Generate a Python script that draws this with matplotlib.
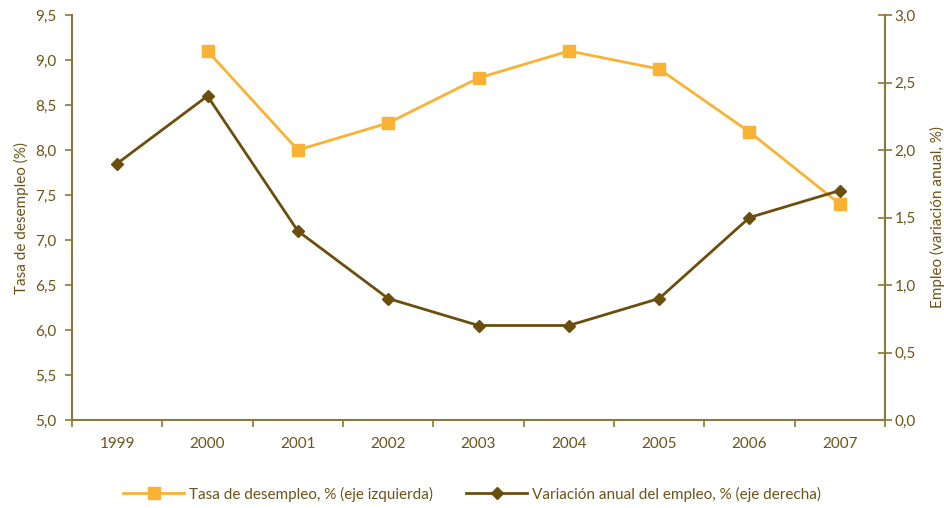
import matplotlib
matplotlib.use("Agg")
import matplotlib.pyplot as plt
from matplotlib.ticker import FixedLocator, FuncFormatter

years = ["1999", "2000", "2001", "2002", "2003", "2004", "2005", "2006", "2007"]
desempleo = [None, 9.1, 8.0, 8.3, 8.8, 9.1, 8.9, 8.2, 7.4]
empleo = [1.9, 2.4, 1.4, 0.9, 0.7, 0.7, 0.9, 1.5, 1.7]

plt.rcParams['font.family'] = ['Lato', 'DejaVu Sans']
TXT = '#6b5418'
AX = '#8c7638'
ORANGE = '#f9b234'
DARK = '#6b4e0c'

fig = plt.figure(figsize=(9.44, 5.08), dpi=100)
W, H = 944, 508
ax = fig.add_axes([72 / W, (H - 420) / H, 813 / W, 405 / H])
ax2 = ax.twinx()

x = list(range(len(years)))
xs = [i for i, v in zip(x, desempleo) if v is not None]
ys = [v for v in desempleo if v is not None]
l1, = ax.plot(xs, ys, color=ORANGE, lw=2, marker='s', ms=8, label='Tasa de desempleo, % (eje izquierda)')
l2, = ax2.plot(x, empleo, color=DARK, lw=2, marker='D', ms=6, label='Variación anual del empleo, % (eje derecha)')

ax.set_xlim(-0.5, len(years) - 0.5)
ax.set_ylim(5.0, 9.5)
ax2.set_ylim(0.0, 3.0)

ax.set_xticks([i - 0.5 for i in range(len(years) + 1)])
ax.set_xticklabels([])
ax.set_xticks(x, minor=True)
ax.set_xticklabels(years, minor=True)
ax.tick_params(axis='x', which='major', direction='out', length=5, color=AX, width=1.2)
ax.tick_params(axis='x', which='minor', length=0, pad=12, labelsize=11, labelcolor=TXT)

fmt = FuncFormatter(lambda v, p: f"{v:.1f}".replace('.', ','))
ax.yaxis.set_major_locator(FixedLocator([5.0 + 0.5 * i for i in range(10)]))
ax.yaxis.set_major_formatter(fmt)
ax2.yaxis.set_major_locator(FixedLocator([0.5 * i for i in range(7)]))
ax2.yaxis.set_major_formatter(fmt)
ax.tick_params(axis='y', direction='out', length=5, color=AX, width=1.2, labelsize=11, labelcolor=TXT, pad=6)
ax2.tick_params(axis='y', direction='inout', length=10, color=AX, width=1.2, labelsize=11, labelcolor=TXT, pad=2)

for a in (ax, ax2):
    a.spines['top'].set_visible(False)
    for s in ('left', 'right', 'bottom'):
        a.spines[s].set_color(AX)
        a.spines[s].set_linewidth(1.5)
ax.spines['right'].set_visible(False)
ax2.spines['left'].set_visible(False)
ax2.spines['bottom'].set_visible(False)

ax.set_ylabel('Tasa de desempleo (%)', color=TXT, fontsize=11, labelpad=5)
ax2.set_ylabel('Empleo (variación anual, %)', color=TXT, fontsize=11, labelpad=10)

leg = fig.legend(handles=[l1, l2], loc='center', bbox_to_anchor=(0.5, (H - 494) / H), ncol=2,
                 frameon=False, fontsize=11, handlelength=4.0, columnspacing=2.2, handletextpad=0.3)
for t in leg.get_texts():
    t.set_color(TXT)

fig.savefig('out.png', dpi=100)
